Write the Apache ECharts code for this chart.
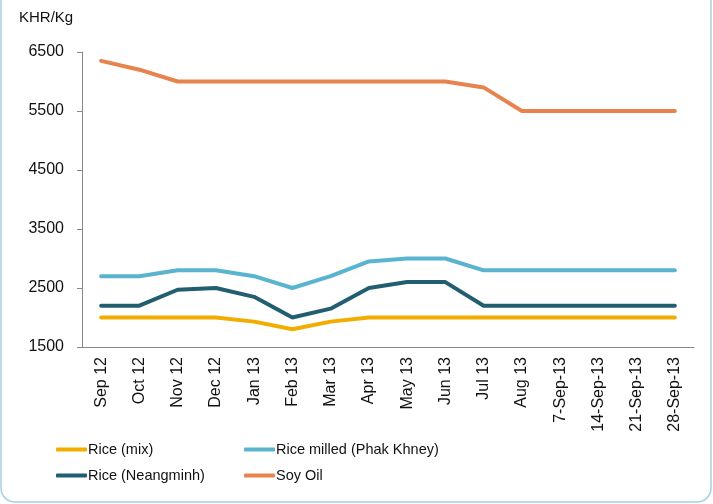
<!DOCTYPE html>
<html>
<head>
<meta charset="utf-8">
<script src="https://cdn.jsdelivr.net/npm/echarts@6/dist/echarts.min.js"></script>
<style>
  html, body { margin: 0; padding: 0; background: #fff; }
  #main { width: 713px; height: 504px; }
</style>
</head>
<body>
<div id="main"></div>
<script>
var categories = ['Sep 12', 'Oct 12', 'Nov 12', 'Dec 12', 'Jan 13', 'Feb 13', 'Mar 13', 'Apr 13',
  'May 13', 'Jun 13', 'Jul 13', 'Aug 13', '7-Sep-13', '14-Sep-13', '21-Sep-13', '28-Sep-13'];
var riceMix = [2000, 2000, 2000, 2000, 1930, 1800, 1930, 2000, 2000, 2000, 2000, 2000, 2000, 2000, 2000, 2000];
var riceMilled = [2700, 2700, 2800, 2800, 2700, 2500, 2700, 2950, 3000, 3000, 2800, 2800, 2800, 2800, 2800, 2800];
var riceNeangminh = [2200, 2200, 2470, 2500, 2350, 2000, 2150, 2500, 2600, 2600, 2200, 2200, 2200, 2200, 2200, 2200];
var soyOil = [6350, 6200, 6000, 6000, 6000, 6000, 6000, 6000, 6000, 6000, 5900, 5500, 5500, 5500, 5500, 5500];

var font = 'Liberation Sans, Arial, sans-serif';
var myChart = echarts.init(document.getElementById('main'));

function line(name, data, color) {
    return {
        name: name,
        type: 'line',
        data: data,
        symbol: 'none',
        lineStyle: { color: color, width: 4, cap: 'round' },
        itemStyle: { color: color }
    };
}

var legendBase = {
    orient: 'vertical',
    top: 437,
    itemWidth: 31,
    itemHeight: 4,
    itemGap: 11,
    icon: 'roundRect',
    textStyle: { fontFamily: font, fontSize: 14.5, color: '#111', padding: [0, 0, 0, -4] }
};

myChart.setOption({
    animation: false,
    graphic: [{
        type: 'rect',
        shape: { x: 1, y: -30, width: 710, height: 532, r: 14 },
        style: { fill: 'none', stroke: '#a6d2df', lineWidth: 1.5 }
    }, {
        type: 'text',
        left: 19,
        top: 10,
        style: { text: 'KHR/Kg', fontFamily: font, fontSize: 15, fill: '#111' }
    }],
    grid: { left: 82, right: 19, top: 52, bottom: 157 },
    legend: [
        Object.assign({ left: 51, data: ['Rice (mix)', 'Rice (Neangminh)'] }, legendBase),
        Object.assign({ left: 239, data: ['Rice milled (Phak Khney)', 'Soy Oil'] }, legendBase)
    ],
    xAxis: {
        type: 'category',
        data: categories,
        boundaryGap: true,
        axisLine: { lineStyle: { color: '#888', width: 1 } },
        axisTick: { lineStyle: { color: '#888' }, length: 5 },
        axisLabel: { rotate: 90, color: '#111', fontFamily: font, fontSize: 16, margin: 10, interval: 0 }
    },
    yAxis: {
        type: 'value',
        min: 1500,
        max: 6500,
        interval: 1000,
        splitLine: { show: false },
        axisLine: { show: true, lineStyle: { color: '#888', width: 1 } },
        axisTick: { show: true, inside: false, length: 5, lineStyle: { color: '#888' } },
        axisLabel: {
            color: '#111', fontFamily: font, fontSize: 16, margin: 18,
            formatter: function (v) { return String(v); }
        }
    },
    series: [
        line('Rice (mix)', riceMix, '#f2ad00'),
        line('Rice milled (Phak Khney)', riceMilled, '#5ab4cf'),
        line('Rice (Neangminh)', riceNeangminh, '#215f70'),
        line('Soy Oil', soyOil, '#e8834e')
    ]
});
</script>
</body>
</html>
